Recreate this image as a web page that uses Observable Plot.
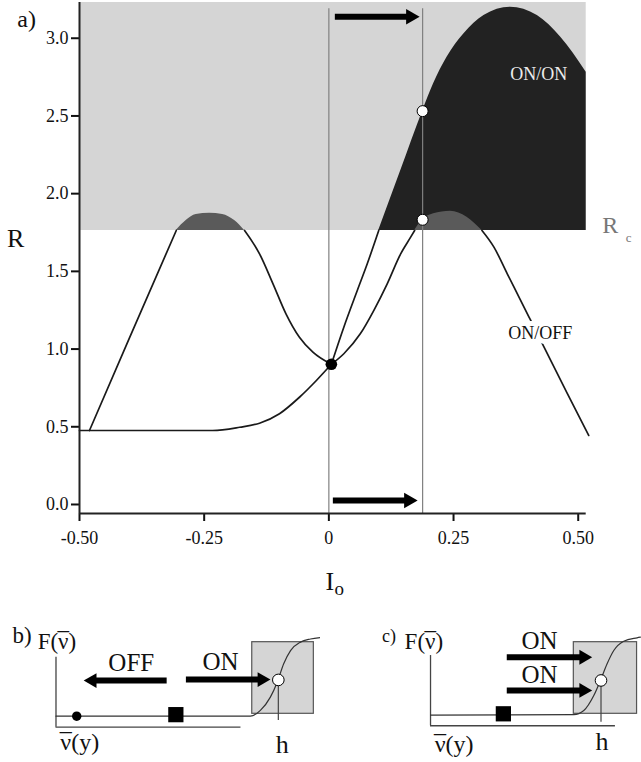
<!DOCTYPE html>
<html><head><meta charset="utf-8">
<script src="https://cdn.jsdelivr.net/npm/d3@7"></script>
<script src="https://cdn.jsdelivr.net/npm/@observablehq/plot@0.6"></script>
<style>
body{margin:0;background:#fff;}
#wrap{width:641px;}
#panels{display:flex;}
#main [aria-label="x-axis tick"], #main [aria-label="y-axis tick"], #main [aria-label="x-axis"] line, #main [aria-label="y-axis"] line {stroke-width:2px;}
</style></head><body>
<div id="wrap"><div id="main"></div><div id="panels"><div id="pb"></div><div id="pc"></div></div></div>
<script>
// ---------- panel a) data ----------
const RC = 1.763;                 // critical R (Rc)
const xTicks = [-0.5, -0.25, 0, 0.25, 0.5];
const yTicks = [0, 0.5, 1, 1.5, 2, 2.5, 3];
const vLines = [0, 0.188];        // vertical reference lines
// left bell curve (descends into the crossing point)
const aI = [-0.480, -0.400, -0.306, -0.286, -0.266, -0.239, -0.213, -0.189, -0.169, -0.139, -0.112, -0.086, -0.059, -0.032, 0.005];
const aR = [0.476, 1.070, 1.763, 1.827, 1.866, 1.874, 1.866, 1.827, 1.763, 1.613, 1.420, 1.227, 1.076, 0.980, 0.902];
// flat curve rising into the crossing point
const bI = [-0.500, -0.233, -0.179, -0.139, -0.099, -0.059, -0.025, 0.005];
const bR = [0.476, 0.476, 0.497, 0.523, 0.584, 0.690, 0.798, 0.902];
// steep curve (ON/ON boundary)
const sI = [0.005, 0.030, 0.057, 0.077, 0.100, 0.145, 0.188, 0.210, 0.237, 0.271, 0.311, 0.364, 0.418, 0.465, 0.516];
const sR = [0.902, 1.141, 1.377, 1.549, 1.763, 2.155, 2.531, 2.707, 2.878, 3.029, 3.146, 3.200, 3.146, 3.007, 2.782];
// right bell curve (ON/OFF)
const mI = [0.005, 0.030, 0.063, 0.090, 0.117, 0.144, 0.164, 0.172, 0.188, 0.210, 0.244, 0.277, 0.307, 0.331, 0.358, 0.384, 0.404, 0.431, 0.478, 0.521];
const mR = [0.902, 0.970, 1.098, 1.248, 1.420, 1.613, 1.720, 1.763, 1.832, 1.870, 1.887, 1.849, 1.763, 1.656, 1.483, 1.317, 1.189, 1.016, 0.715, 0.444];
// markers
const blackDotI = [0.005], blackDotR = [0.902];
const whiteDotI = [0.188, 0.188], whiteDotR = [1.832, 2.531];
// arrows in panel a)
const arrowR = [3.138, 0.026], arrowTail = [0.013, 0.009], arrowTip = [0.182, 0.178];

// ---------- panels b) and c) data ----------
const sigBx = [0, 1.051, 1.105, 1.159, 1.196, 1.231, 1.268, 1.322, 1.376, 1.43];
const sigBF = [0, 0, 0.075, 0.247, 0.44, 0.68, 0.85, 0.96, 1.0, 1.02];
const sigCx = [0, 0.775, 0.829, 0.883, 0.919, 0.955, 0.991, 1.045, 1.117, 1.135];
const sigCF = [0.015, 0.02, 0.074, 0.268, 0.463, 0.679, 0.851, 0.972, 1.016, 1.024];
const boxB = [1.061, 1.394, 0.031, 0.959], boxC = [0.775, 1.117, 0.031, 0.959];
const hB = [1.202, 0.47], hC = [0.922, 0.463];
const arrowsB = [{F: 0.462, tail: 0.601, tip: 0.150, dir: -1}, {F: 0.475, tail: 0.705, tip: 1.159, dir: 1}];
const arrowsC = [{F: 0.764, tail: 0.415, tip: 0.874, dir: 1}, {F: 0.334, tail: 0.415, tip: 0.874, dir: 1}];

const FONT = '"Liberation Serif", "Times New Roman", serif';
const pts = (I, R) => I.map((x, i) => ({I: x, R: R[i]}));
const A = pts(aI, aR), B = pts(bI, bR), S = pts(sI, sR), M = pts(mI, mR);
const below = d => d.R <= RC + 1e-9 ? d.R : NaN;
const isAbove = d => d.R >= RC - 1e-9;
const lineOpts = {x: "I", y: below, stroke: "#1a1a1a", strokeWidth: 1.7, curve: "monotone-x"};
const arrows = arrowR.map((r, i) => ({R: r, t: arrowTail[i], h: arrowTip[i]}));
const YBOT = -0.058, YTOP = 3.23, XR = 0.516;

const main = Plot.plot({
  width: 641, height: 620,
  marginLeft: 79, marginRight: 55.3, marginTop: 2, marginBottom: 107,
  x: {domain: [-0.5, XR], ticks: xTicks, tickFormat: d => d === 0 ? "0" : d.toFixed(2), tickSize: 8, tickPadding: 10, label: null},
  y: {domain: [YBOT, YTOP], ticks: yTicks, tickFormat: d => d.toFixed(1), tickSize: 8, tickPadding: 3, label: null},
  style: {fontFamily: FONT, fontSize: "18px", color: "#111", background: "white"},
  marks: [
    Plot.rect([0], {x1: -0.5, x2: XR, y1: RC, y2: YTOP, fill: "#d5d5d5"}),
    Plot.areaY(S.filter(isAbove), {x: "I", y1: RC, y2: "R", fill: "#222222", curve: "monotone-x"}),
    Plot.areaY(A.filter(isAbove), {x: "I", y1: RC, y2: "R", fill: "#5a5a5a", curve: "monotone-x"}),
    Plot.areaY(M.filter(isAbove), {x: "I", y1: RC, y2: "R", fill: "#5a5a5a", curve: "monotone-x"}),
    Plot.line(A, lineOpts),
    Plot.line(B, lineOpts),
    Plot.line(S, lineOpts),
    Plot.line(M, lineOpts),
    Plot.ruleX(vLines, {y1: YBOT, y2: 3.19, stroke: "#808080", strokeWidth: 1.2}),
    Plot.ruleX([-0.5], {y1: YBOT, y2: YTOP, stroke: "#222", strokeWidth: 2}),
    Plot.ruleY([YBOT], {x1: -0.5, x2: XR, stroke: "#222", strokeWidth: 2}),
    Plot.ruleY(arrows, {y: "R", x1: "t", x2: "h", stroke: "black", strokeWidth: 6, insetRight: 9}),
    Plot.dot(arrows, {x: "h", y: "R", symbol: "triangle", r: 5.8, fill: "black", stroke: "none", rotate: 90, dx: -9}),
    Plot.dot(pts(blackDotI, blackDotR), {x: "I", y: "R", r: 5.8, fill: "black", stroke: "none"}),
    Plot.dot(pts(whiteDotI, whiteDotR), {x: "I", y: "R", r: 5.5, fill: "white", stroke: "black", strokeWidth: 1}),
    Plot.text(["ON/ON"], {text: d => d, x: 0.421, y: 2.771, fill: "#ececec", fontSize: 18}),
    Plot.text(["ON/OFF"], {text: d => d, x: 0.424, y: 1.10, fill: "#111", stroke: "white", strokeWidth: 10, paintOrder: "stroke", fontSize: 18}),
    Plot.text(["a)"], {text: d => d, x: -0.606, y: 3.12, fill: "#111", fontSize: 24}),
    Plot.text(["R"], {text: d => d, x: -0.628, y: 1.712, fill: "#111", fontSize: 26}),
    Plot.text(["R"], {text: d => d, x: 0.564, y: 1.795, fill: "#777", fontSize: 24}),
    Plot.text(["c"], {text: d => d, x: 0.601, y: 1.718, fill: "#777", fontSize: 13}),
    Plot.text(["I"], {text: d => d, x: 0.002, y: -0.495, fill: "#111", fontSize: 26}),
    Plot.text(["o"], {text: d => d, x: 0.021, y: -0.540, fill: "#111", fontSize: 19})
  ]
});
document.getElementById("main").append(main);

function panel(cfg) {
  const right = cfg.arrows.filter(d => d.dir > 0), left = cfg.arrows.filter(d => d.dir < 0);
  const sig = cfg.sx.map((x, i) => ({x, F: cfg.sF[i]}));
  const t = (s, x, y, fs) => Plot.text([s], {text: d => d, x, y, fontSize: fs, fill: "#111"});
  return Plot.plot({
    width: cfg.width, height: 142, marginTop: 0, marginRight: 0, marginBottom: 0, marginLeft: 0,
    x: {domain: cfg.xd, axis: null}, y: {domain: [-0.6, 1.24], axis: null},
    style: {fontFamily: FONT, fontSize: "24px", color: "#111", background: "white"},
    marks: [
      Plot.rect([0], {x1: cfg.box[0], x2: cfg.box[1], y1: cfg.box[2], y2: cfg.box[3], fill: "#d5d5d5", stroke: "#555", strokeWidth: 1.2}),
      Plot.ruleX([0], {y1: cfg.axisF, y2: cfg.axisTop, stroke: "#444", strokeWidth: 1.3}),
      Plot.ruleY([cfg.axisF], {x1: 0, x2: 1.0, stroke: "#444", strokeWidth: 1.3}),
      Plot.line(sig, {x: "x", y: "F", curve: "monotone-x", stroke: "#333", strokeWidth: 1.2}),
      Plot.ruleX([cfg.h[0]], {y1: cfg.hBottom, y2: cfg.h[1], stroke: "#444", strokeWidth: 1.2}),
      Plot.ruleY(right, {y: "F", x1: "tail", x2: "tip", stroke: "black", strokeWidth: 6, insetRight: 8.5}),
      Plot.dot(right, {x: "tip", y: "F", symbol: "triangle", r: 5.5, fill: "black", stroke: "none", rotate: 90, dx: -8.5}),
      Plot.ruleY(left, {y: "F", x1: "tip", x2: "tail", stroke: "black", strokeWidth: 6, insetLeft: 8.5}),
      Plot.dot(left, {x: "tip", y: "F", symbol: "triangle", r: 5.5, fill: "black", stroke: "none", rotate: -90, dx: 8.5}),
      Plot.dot([cfg.h], {x: d => d[0], y: d => d[1], r: 5.8, fill: "white", stroke: "black", strokeWidth: 1}),
      ...(cfg.dot ? [Plot.dot([cfg.dot], {x: d => d[0], y: d => d[1], r: 4.7, fill: "black", stroke: "none"})] : []),
      Plot.dot([cfg.square], {x: d => d[0], y: d => d[1], symbol: "square", r: 8.6, fill: "black", stroke: "none"}),
      ...cfg.texts.map(d => t(...d))
    ]
  });
}

// put a macron (bar) over every "ν" inside a text element, keeping it real text
function addMacrons(svg) {
  const NS = "http://www.w3.org/2000/svg";
  svg.querySelectorAll("text").forEach(el => {
    const s = el.textContent, i = s.indexOf("ν");
    if (i < 0) return;
    const wNu = el.getSubStringLength(i, 1);
    el.textContent = s.slice(0, i + 1);
    const mac = document.createElementNS(NS, "tspan");
    mac.textContent = "\u00AF";
    const rest = document.createElementNS(NS, "tspan");
    rest.textContent = s.slice(i + 1);
    el.append(mac, rest);
    const wMac = mac.getComputedTextLength();
    mac.setAttribute("dx", -(wNu + wMac) / 2);
    mac.setAttribute("transform", "scale(1)");
    rest.setAttribute("dx", (wNu - wMac) / 2);
  });
}

const pb = panel({
  width: 320, xd: [-0.3, 1.43], sx: sigBx, sF: sigBF, box: boxB, h: hB, hBottom: -0.056,
  axisF: -0.142, axisTop: 0.764, arrows: arrowsB, dot: [0.112, 0], square: [0.648, 0.02],
  texts: [["b)", -0.184, 1.039, 23], ["F(ν)", 0.005, 0.968, 23], ["OFF", 0.407, 0.689, 25], ["ON", 0.889, 0.70, 25], ["ν(y)", 0.127, -0.34, 24], ["h", 1.223, -0.367, 26]]
});
const pc = panel({
  width: 321, xd: [-0.595, 1.141], sx: sigCx, sF: sigCF, box: boxC, h: hC, hBottom: -0.078,
  axisF: -0.124, axisTop: 0.786, arrows: arrowsC, dot: null, square: [0.394, 0.031],
  texts: [["c)", -0.225, 1.032, 18], ["F(ν)", -0.036, 0.968, 23], ["ON", 0.589, 0.970, 25], ["ON", 0.589, 0.53, 25], ["ν(y)", 0.126, -0.36, 24], ["h", 0.928, -0.334, 26]]
});
document.getElementById("pb").append(pb);
document.getElementById("pc").append(pc);
addMacrons(pb);
addMacrons(pc);
</script>
</body></html>
